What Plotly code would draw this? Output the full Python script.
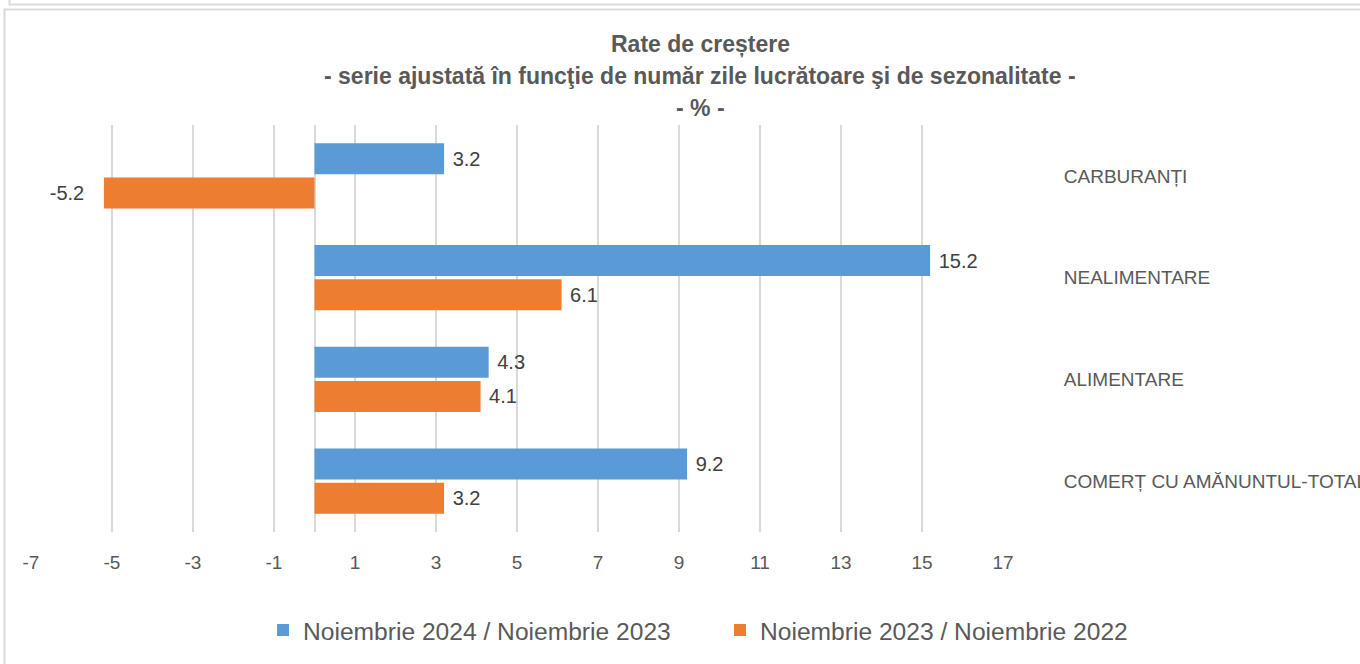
import plotly.graph_objects as go

categories = ["COMERȚ CU AMĂNUNTUL-TOTAL", "ALIMENTARE", "NEALIMENTARE", "CARBURANȚI"]
series_2024 = [9.2, 4.3, 15.2, 3.2]
series_2023 = [3.2, 4.1, 6.1, -5.2]
name_2024 = "Noiembrie 2024 / Noiembrie 2023"
name_2023 = "Noiembrie 2023 / Noiembrie 2022"
tick_vals = [-7, -5, -3, -1, 1, 3, 5, 7, 9, 11, 13, 15, 17]
title_lines = [
    "Rate de creștere",
    "- serie ajustată în funcţie de număr zile lucrătoare şi de sezonalitate -",
    "- % -",
]

W, H = 1360, 664
L, R, T, B = 31, 357, 125, 132
PW, PH = W - L - R, H - T - B


def px(x):
    return (x - L) / PW


def py(y):
    return 1 - (y - T) / PH


FONT = "Liberation Sans, Arial, sans-serif"
GREY = "#595959"
LBL = "#404040"
NB = "\u00a0"


def label_templates(vals):
    return [("%{x:.1f}" + NB * 3) if v < 0 else (NB + "%{x:.1f}") for v in vals]


fig = go.Figure()
fig.add_trace(go.Bar(
    y=categories, x=series_2023, name=name_2023, orientation="h",
    marker=dict(color="#ED7D31", line=dict(width=0)),
    texttemplate=label_templates(series_2023), textposition="outside",
    textfont=dict(size=20, color=LBL, family=FONT), cliponaxis=False,
))
fig.add_trace(go.Bar(
    y=categories, x=series_2024, name=name_2024, orientation="h",
    marker=dict(color="#5B9BD5", line=dict(width=0)),
    texttemplate=label_templates(series_2024), textposition="outside",
    textfont=dict(size=20, color=LBL, family=FONT), cliponaxis=False,
))

annotations = []
for i, line in enumerate(title_lines):
    annotations.append(dict(
        text="<b>%s</b>" % line, xref="paper", yref="paper",
        x=px(700), y=py([44, 76, 108][i]), xanchor="center", yanchor="middle",
        showarrow=False, font=dict(size=23, color=GREY, family=FONT),
    ))

shapes = [
    dict(type="rect", xref="paper", yref="paper",
         x0=px(4.5), x1=px(1380), y0=py(9.5), y1=py(700),
         line=dict(color="#d9d9d9", width=2), fillcolor="rgba(0,0,0,0)", layer="below"),
    dict(type="rect", xref="paper", yref="paper",
         x0=px(9.5), x1=px(1380), y0=py(-30), y1=py(4.5),
         line=dict(color="#d9d9d9", width=2), fillcolor="rgba(0,0,0,0)", layer="below"),
]

fig.update_layout(
    width=W, height=H,
    margin=dict(l=L, r=R, t=T, b=B, autoexpand=False),
    paper_bgcolor="white", plot_bgcolor="white",
    barmode="group", bargap=0.33, bargroupgap=0.09,
    font=dict(family=FONT, color=GREY),
    showlegend=True,
    legend=dict(
        orientation="h", x=px(720), xanchor="center", y=py(630), yanchor="middle",
        traceorder="reversed", font=dict(size=24.6, color=GREY, family=FONT),
        itemwidth=30, entrywidth=412, entrywidthmode="pixels",
    ),
    xaxis=dict(
        range=[-7, 17], tickvals=tick_vals, ticktext=[str(v) for v in tick_vals],
        showgrid=True, gridcolor="#d9d9d9", gridwidth=1.5,
        zeroline=True, zerolinecolor="#d9d9d9", zerolinewidth=1.5,
        showline=False, ticks="outside", ticklen=13, tickcolor="rgba(0,0,0,0)",
        tickfont=dict(size=19, color=GREY, family=FONT), automargin=False,
        fixedrange=True,
    ),
    yaxis=dict(
        type="category", categoryorder="array", categoryarray=categories,
        side="right", showgrid=False, zeroline=False, showline=False,
        ticks="outside", ticklen=56, tickcolor="rgba(0,0,0,0)",
        tickfont=dict(size=19, color=GREY, family=FONT), automargin=False,
        fixedrange=True,
    ),
    annotations=annotations,
    shapes=shapes,
)

fig.write_html(
    "out.html",
    config={"displayModeBar": False},
    post_script="document.body.style.margin='0';document.body.style.overflow='hidden';",
)
